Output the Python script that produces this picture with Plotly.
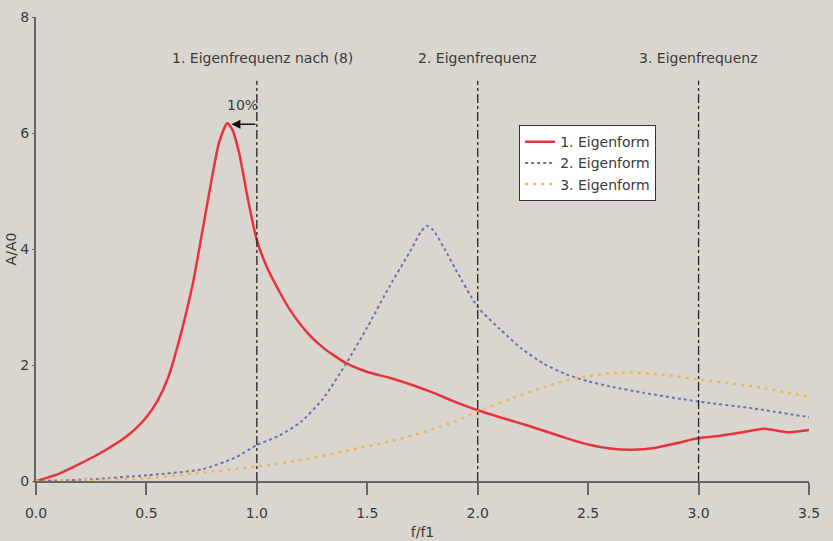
import plotly.graph_objects as go

# Data
red_x = [0, 0.1, 0.2, 0.3, 0.4, 0.45, 0.5, 0.55, 0.6, 0.65, 0.71, 0.76, 0.80, 0.83, 0.866, 0.89, 0.92, 0.96,
         1.0, 1.05, 1.1, 1.15, 1.23, 1.3, 1.4, 1.5, 1.6, 1.7, 1.8, 1.9, 2.0, 2.1, 2.24, 2.4, 2.5,
         2.6, 2.7, 2.8, 2.9, 3.0, 3.1, 3.2, 3.3, 3.4, 3.5]
red_y = [0, 0.12, 0.3, 0.5, 0.74, 0.9, 1.1, 1.38, 1.8, 2.45, 3.4, 4.45, 5.3, 5.85, 6.17, 6.05, 5.65, 4.85,
         4.15, 3.65, 3.28, 2.95, 2.55, 2.3, 2.04, 1.88, 1.78, 1.66, 1.52, 1.36, 1.22, 1.1, 0.94, 0.74, 0.63,
         0.56, 0.54, 0.57, 0.65, 0.74, 0.78, 0.84, 0.9, 0.84, 0.88]

blue_x = [0, 0.25, 0.5, 0.75, 0.9, 1.0, 1.1, 1.2, 1.3, 1.4, 1.5, 1.6, 1.7, 1.74, 1.77, 1.8, 1.85, 1.9, 2.0,
          2.1, 2.2, 2.3, 2.4, 2.5, 2.6, 2.75, 3.0, 3.25, 3.5]
blue_y = [0, 0.03, 0.1, 0.2, 0.4, 0.62, 0.78, 1.02, 1.42, 2.0, 2.65, 3.35, 4.0, 4.28, 4.4, 4.32, 4.0, 3.65, 3.0,
          2.62, 2.28, 2.02, 1.84, 1.72, 1.63, 1.52, 1.37, 1.25, 1.1]

orange_x = [0, 0.25, 0.5, 0.74, 1.0, 1.2, 1.5, 1.6, 1.7, 1.8, 1.9, 2.0, 2.15, 2.3, 2.45, 2.6, 2.7, 2.85,
            3.0, 3.15, 3.3, 3.5]
orange_y = [0, 0.02, 0.05, 0.14, 0.25, 0.36, 0.6, 0.68, 0.78, 0.9, 1.03, 1.2, 1.42, 1.62, 1.78, 1.86, 1.87, 1.83,
            1.75, 1.68, 1.6, 1.45]

series_names = ["1. Eigenform", "2. Eigenform", "3. Eigenform"]
eigen_x = [1.0, 2.0, 3.0]
eigen_label_x = [1.027, 2.0, 3.0]
eigen_labels = ["1. Eigenfrequenz nach (8)", "2. Eigenfrequenz", "3. Eigenfrequenz"]
x_ticks = [0, 0.5, 1.0, 1.5, 2.0, 2.5, 3.0, 3.5]
y_ticks = [0, 2, 4, 6, 8]

bg = "#d9d6cf"
txt = "#3a3a3a"
font_family = "DejaVu Sans, sans-serif"

fig = go.Figure()
fig.add_trace(go.Scatter(x=red_x, y=red_y, mode="lines", name=series_names[0],
                         line=dict(color="#e8323c", width=2.5, shape="spline", smoothing=0.6)))
fig.add_trace(go.Scatter(x=blue_x, y=blue_y, mode="lines", name=series_names[1],
                         line=dict(color="#6c6fb0", width=2, dash="dot", shape="spline", smoothing=0.6)))
fig.add_trace(go.Scatter(x=orange_x, y=orange_y, mode="lines", name=series_names[2],
                         line=dict(color="#f0b45a", width=2.5, dash="3px,5px", shape="spline", smoothing=0.6)))

for xv, lx, lab in zip(eigen_x, eigen_label_x, eigen_labels):
    fig.add_shape(type="line", x0=xv, x1=xv, y0=0, y1=6.9, xref="x", yref="y",
                  line=dict(color="#222222", width=1.3, dash="dashdot"))
    fig.add_annotation(x=lx, y=7.3, xref="x", yref="y", text=lab, showarrow=False,
                       font=dict(size=14, color=txt, family=font_family))

fig.add_annotation(x=0.885, y=6.15, ax=1.0, ay=6.15, xref="x", yref="y", axref="x", ayref="y",
                   text="", showarrow=True, arrowhead=2, arrowsize=1.2, arrowwidth=1.5,
                   arrowcolor="#111111")
fig.add_annotation(x=0.935, y=6.48, xref="x", yref="y", text="10%", showarrow=False,
                   font=dict(size=14, color=txt, family=font_family))

fig.update_layout(
    width=833, height=541,
    paper_bgcolor=bg, plot_bgcolor=bg,
    margin=dict(l=36, r=24, t=17, b=60),
    font=dict(family=font_family, size=14, color=txt),
    legend=dict(x=0.625, y=0.767, xanchor="left", yanchor="top",
                bgcolor="white", bordercolor="#333333", borderwidth=1,
                font=dict(size=14, color=txt), tracegroupgap=0),
    xaxis=dict(range=[0, 3.5], tickvals=x_ticks, tickformat=".1f", showgrid=False, zeroline=False,
               showline=True, linecolor="#666666", linewidth=2, ticks="outside", ticklen=12,
               tickwidth=2, tickcolor="#666666", ticklabelstandoff=6, automargin=False,
               title=dict(text="f/f1", standoff=7, font=dict(size=14, color=txt))),
    yaxis=dict(range=[0, 8], tickvals=y_ticks, showgrid=False, zeroline=False,
               showline=True, linecolor="#666666", linewidth=2, ticks="outside", ticklen=2,
               tickcolor="#666666", automargin=False,
               title=dict(text="A/A0", standoff=0, font=dict(size=14, color=txt))),
)

fig.write_html("out.html")
